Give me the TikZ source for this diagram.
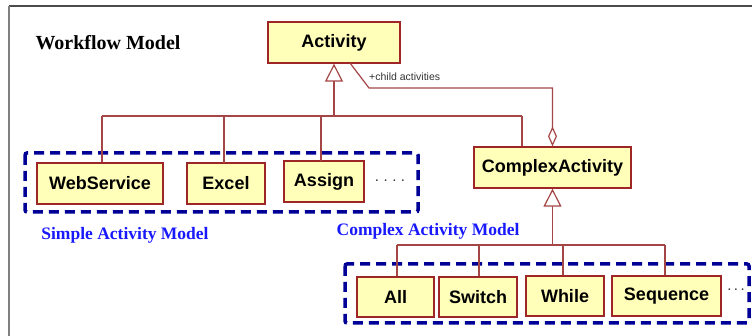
\documentclass[tikz,border=0pt]{standalone}
\usepackage{fontspec}
\setmainfont{Liberation Serif}
\setsansfont{Liberation Sans}
\usetikzlibrary{arrows.meta}
\definecolor{boxfill}{RGB}{255,255,185}
\definecolor{boxline}{RGB}{158,38,38}
\definecolor{conn}{RGB}{165,70,70}
\definecolor{navyblue}{RGB}{0,0,150}
\definecolor{lblue}{RGB}{25,25,255}
\begin{document}
\begin{tikzpicture}[x=1pt,y=-1pt,
  cls/.style={draw=boxline,fill=boxfill,line width=1.3pt,
    font=\sffamily\bfseries\fontsize{18}{21}\selectfont,inner sep=0pt},
  conline/.style={draw=conn,line width=1.2pt},
  gen/.style={conline,-{Triangle[open,length=18pt,width=18pt,fill=white]}},
  agg/.style={conline,-{Diamond[open,length=20pt,width=9pt,fill=white]}},
  group/.style={draw=navyblue,line width=3.5pt,dash pattern=on 10pt off 6pt,rounded corners=2pt},
  title/.style={font=\bfseries\fontsize{20}{24}\selectfont},
  grplabel/.style={text=lblue,font=\bfseries\fontsize{17.5}{21}\selectfont},
  dotstext/.style={text=black!80,font=\sffamily\fontsize{15}{18}\selectfont}
]
\useasboundingbox (0,0) rectangle (752,336);
% outer frame
\draw[black!70,line width=1.3pt] (9,6) -- (752,6);
\draw[black!50,line width=1.3pt] (9,6) -- (9,336);

% group boxes
\draw[group] (25,153) rectangle (418,212);
\draw[group] (345,264) rectangle (749,323);

% classes
\node[cls,minimum width=132,minimum height=41] (Activity) at (334,42.5) {\raisebox{2pt}{Activity}};
\node[cls,minimum width=126,minimum height=41] (WebService) at (100,183.5) {WebService};
\node[cls,minimum width=78,minimum height=41] (Excel) at (226,183.5) {Excel};
\node[cls,minimum width=80,minimum height=41] (Assign) at (324,181.5) {\raisebox{1pt}{Assign}};
\node[cls,minimum width=157,minimum height=41] (Complex) at (552.5,167.5) {\raisebox{1pt}{ComplexActivity}};
\node[cls,minimum width=77,minimum height=40] (All) at (395.5,297) {All};
\node[cls,minimum width=78,minimum height=40] (Switch) at (478,297) {Switch};
\node[cls,minimum width=78,minimum height=40] (While) at (565,296) {While};
\node[cls,minimum width=109,minimum height=40] (Sequence) at (666.5,296) {Sequence};

% texts
\node[title] (wm) at (108,43) {Workflow Model};
\node[grplabel] (sam) at (125,235) {Simple Activity Model};
\node[grplabel] (cam) at (428,231) {Complex Activity Model};
\node[dotstext] (d1) at (390,181) {.\hspace{4.5pt}.\hspace{4.5pt}.\hspace{4.5pt}.};
\node[dotstext] (d2) at (736,290) {.\hspace{2.5pt}.\hspace{2.5pt}.};

% generalization: Activity
\coordinate (g1) at (334,116);
\coordinate (b1) at (102,116);
\coordinate (b4) at (522,116);
\draw[gen] (g1) -- (Activity.south);
\draw[conline] (b1) -- (b4);
\draw[conline] (b1) -- (b1 |- WebService.north);
\draw[conline] (224,116) -- (224,163);
\draw[conline] (321,116) -- (321,161);
\draw[conline] (b4) -- (b4 |- Complex.north);

% aggregation: child activities
\coordinate (a0) at (350,63);
\coordinate (a1) at (369,88);
\coordinate (a2) at (552.5,88);
\draw[agg] (a0) -- (a1) -- (a2) -- (Complex.north);
\node[anchor=west,font=\sffamily\fontsize{10.5}{12}\selectfont,text=black!80,inner sep=0pt] (cl) at (369,77) {+child activities};

% generalization: ComplexActivity
\coordinate (g2) at (552.5,245);
\coordinate (c1) at (397,245);
\coordinate (c2) at (479,245);
\coordinate (c3) at (563,245);
\coordinate (c4) at (665,245);
\draw[gen] (g2) -- (Complex.south);
\draw[conline] (c1) -- (c4);
\draw[conline] (c1) -- (c1 |- All.north);
\draw[conline] (c2) -- (c2 |- Switch.north);
\draw[conline] (c3) -- (c3 |- While.north);
\draw[conline] (c4) -- (c4 |- Sequence.north);
\end{tikzpicture}
\end{document}
